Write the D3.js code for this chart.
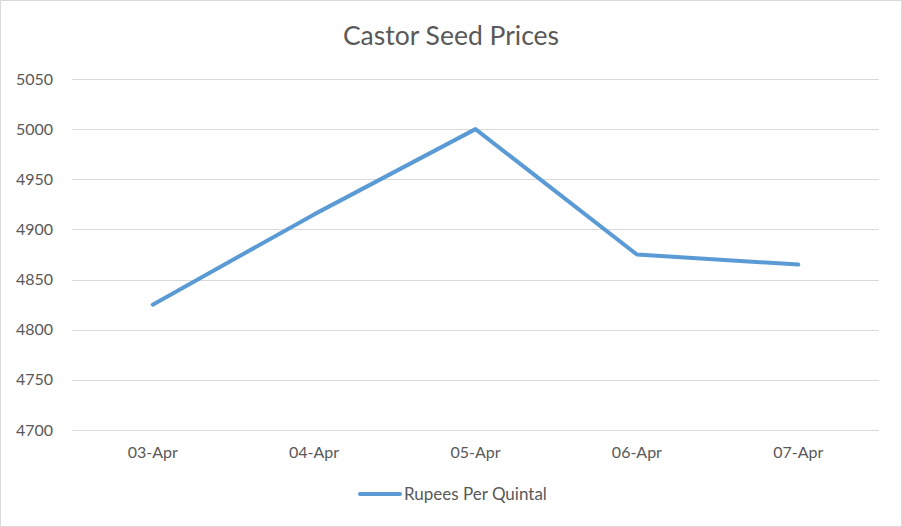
<!DOCTYPE html>
<html>
<head>
<meta charset="utf-8">
<script src="https://cdn.jsdelivr.net/npm/d3@7"></script>
<style>
  body { margin: 0; background: #fff; }
  text { font-family: Lato, "Open Sans", sans-serif; fill: #595959; }
</style>
</head>
<body>
<div id="chart"></div>
<script>
var dates = ["03-Apr", "04-Apr", "05-Apr", "06-Apr", "07-Apr"];
var prices = [4825, 4915, 5000, 4875, 4865];
var yTicks = [4700, 4750, 4800, 4850, 4900, 4950, 5000, 5050];
var seriesName = "Rupees Per Quintal";
var title = "Castor Seed Prices";

var width = 902, height = 527;
var plotLeft = 72, plotRight = 879, plotTop = 79, plotBottom = 430;

var svg = d3.select("#chart").append("svg")
  .attr("width", width).attr("height", height);

svg.append("rect")
  .attr("x", 0.5).attr("y", 0.5)
  .attr("width", width - 1).attr("height", height - 1)
  .attr("fill", "#fff").attr("stroke", "#d9d9d9");

var x = d3.scaleBand().domain(dates).range([plotLeft, plotRight]);
var y = d3.scaleLinear().domain([4700, 5050]).range([plotBottom, plotTop]);

// gridlines
svg.append("g").selectAll("line")
  .data(yTicks)
  .join("line")
  .attr("x1", plotLeft).attr("x2", plotRight)
  .attr("y1", function (d) { return Math.round(y(d)) + 0.5; })
  .attr("y2", function (d) { return Math.round(y(d)) + 0.5; })
  .attr("stroke", "#d9d9d9").attr("stroke-width", 1);

// y labels
var yAxis = svg.append("g")
  .attr("transform", "translate(" + (plotLeft - 19) + ",0)")
  .call(d3.axisLeft(y).tickValues(yTicks).tickFormat(d3.format("d")).tickSize(0).tickPadding(0));
yAxis.select(".domain").remove();
yAxis.selectAll("text").style("font-size", "16px").attr("fill", "#595959");

// x labels
var xAxis = svg.append("g")
  .attr("transform", "translate(0," + plotBottom + ")")
  .call(d3.axisBottom(x).tickSize(0).tickPadding(17));
xAxis.select(".domain").remove();
xAxis.selectAll("text").style("font-size", "16px").attr("fill", "#595959");

// line
var line = d3.line()
  .x(function (d, i) { return x(dates[i]) + x.bandwidth() / 2; })
  .y(function (d) { return y(d); });

svg.append("path")
  .datum(prices)
  .attr("d", line)
  .attr("fill", "none")
  .attr("stroke", "#5b9bd5")
  .attr("stroke-width", 4)
  .attr("stroke-linejoin", "round")
  .attr("stroke-linecap", "round");

// title
svg.append("text")
  .attr("x", 451).attr("y", 45)
  .attr("text-anchor", "middle")
  .style("font-size", "26.5px")
  .text(title);

// legend
var lg = svg.append("g");
lg.append("line")
  .attr("x1", 360).attr("x2", 400)
  .attr("y1", 494).attr("y2", 494)
  .attr("stroke", "#5b9bd5").attr("stroke-width", 4)
  .attr("stroke-linecap", "round");
lg.append("text")
  .attr("x", 404).attr("y", 500)
  .style("font-size", "17px")
  .text(seriesName);
</script>
</body>
</html>
